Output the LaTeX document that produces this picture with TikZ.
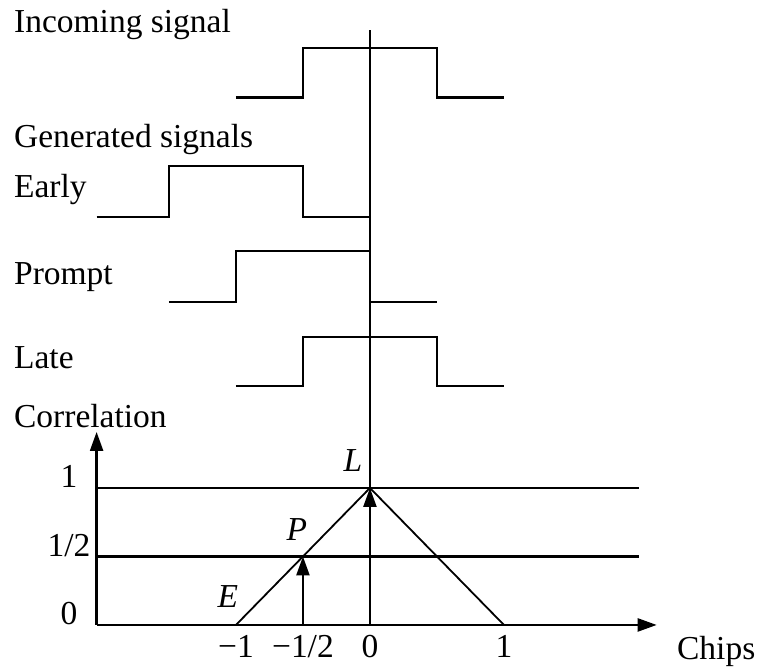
\documentclass[tikz,border=0pt]{standalone}
\usepackage{fontspec}
\setmainfont{Liberation Serif}
\usetikzlibrary{arrows.meta}

\begin{document}
\begin{tikzpicture}[x=134pt,y=137pt,line width=2.3pt,font=\fontsize{33.5}{40}\selectfont,
  lbl/.style={anchor=base west,inner sep=0pt},
  tick/.style={anchor=base,inner sep=0pt},
  tip/.style={-{Triangle[length=19pt,width=13pt]}}]
  \useasboundingbox (-2.761,-0.328) rectangle (2.896,4.562);
  \node[lbl] (tin) at (-2.664,4.328) {Incoming signal};
  \node[lbl] (tgen) at (-2.664,3.482) {Generated signals};
  \node[lbl] (tearly) at (-2.664,3.117) {Early};
  \node[lbl] (tprompt) at (-2.664,2.482) {Prompt};
  \node[lbl] (tlate) at (-2.664,1.869) {Late};
  \node[lbl] (tcorr) at (-2.664,1.445) {Correlation};
  \draw (-1,3.85) -- (-0.5,3.85) |- (0.5,4.21) |- (1,3.85);
  \draw (-2.04,2.98) -- (-1.5,2.98) |- (-0.5,3.35) |- (0,2.98);
  \draw (-1.5,2.36) -- (-1,2.36) |- (0,2.73) |- (0.5,2.36);
  \draw (-1,1.745) -- (-0.5,1.745) |- (0.5,2.1) |- (1,1.745);
  \coordinate (O) at (-2.04,0);
  \coordinate (E) at (-1,0);
  \coordinate (Pb) at (-0.5,0);
  \coordinate (Lb) at (0,0);
  \coordinate (R) at (1,0);
  \coordinate (P) at (-0.5,0.5);
  \coordinate (L) at (0,1);
  \draw (Lb) -- (0,4.34);
  \draw (O |- L) -- (2.007,1) (O |- P) -- (2.007,0.5);
  \draw[line width=1.8pt] (E) -- (L) -- (R);
  \draw[tip] (O) -- (2.14,0);
  \draw[tip] (O) -- (-2.04,1.409);
  \draw[tip] (Pb) -- (P);
  \draw[tip] (Lb) -- (L);
  \node[tick] (y0) at (-2.246,0) {0};
  \node[tick] (yh) at (-2.246,0.5) {1/2};
  \node[tick] (y1) at (-2.246,1) {1};
  \node[tick] (xm1) at (-1,-0.241) {−1};
  \node[tick] (xmh) at (-0.5,-0.241) {−1/2};
  \node[tick] (x0) at (0,-0.241) {0};
  \node[tick] (x1) at (1,-0.241) {1};
  \node[lbl] (chips) at (2.284,-0.255) {Chips};
  \node[tick] (lE) at (-1.06,0.131) {\textit{E}};
  \node[tick] (lP) at (-0.545,0.62) {\textit{P}};
  \node[tick] (lL) at (-0.127,1.117) {\textit{L}};
\end{tikzpicture}
\end{document}
